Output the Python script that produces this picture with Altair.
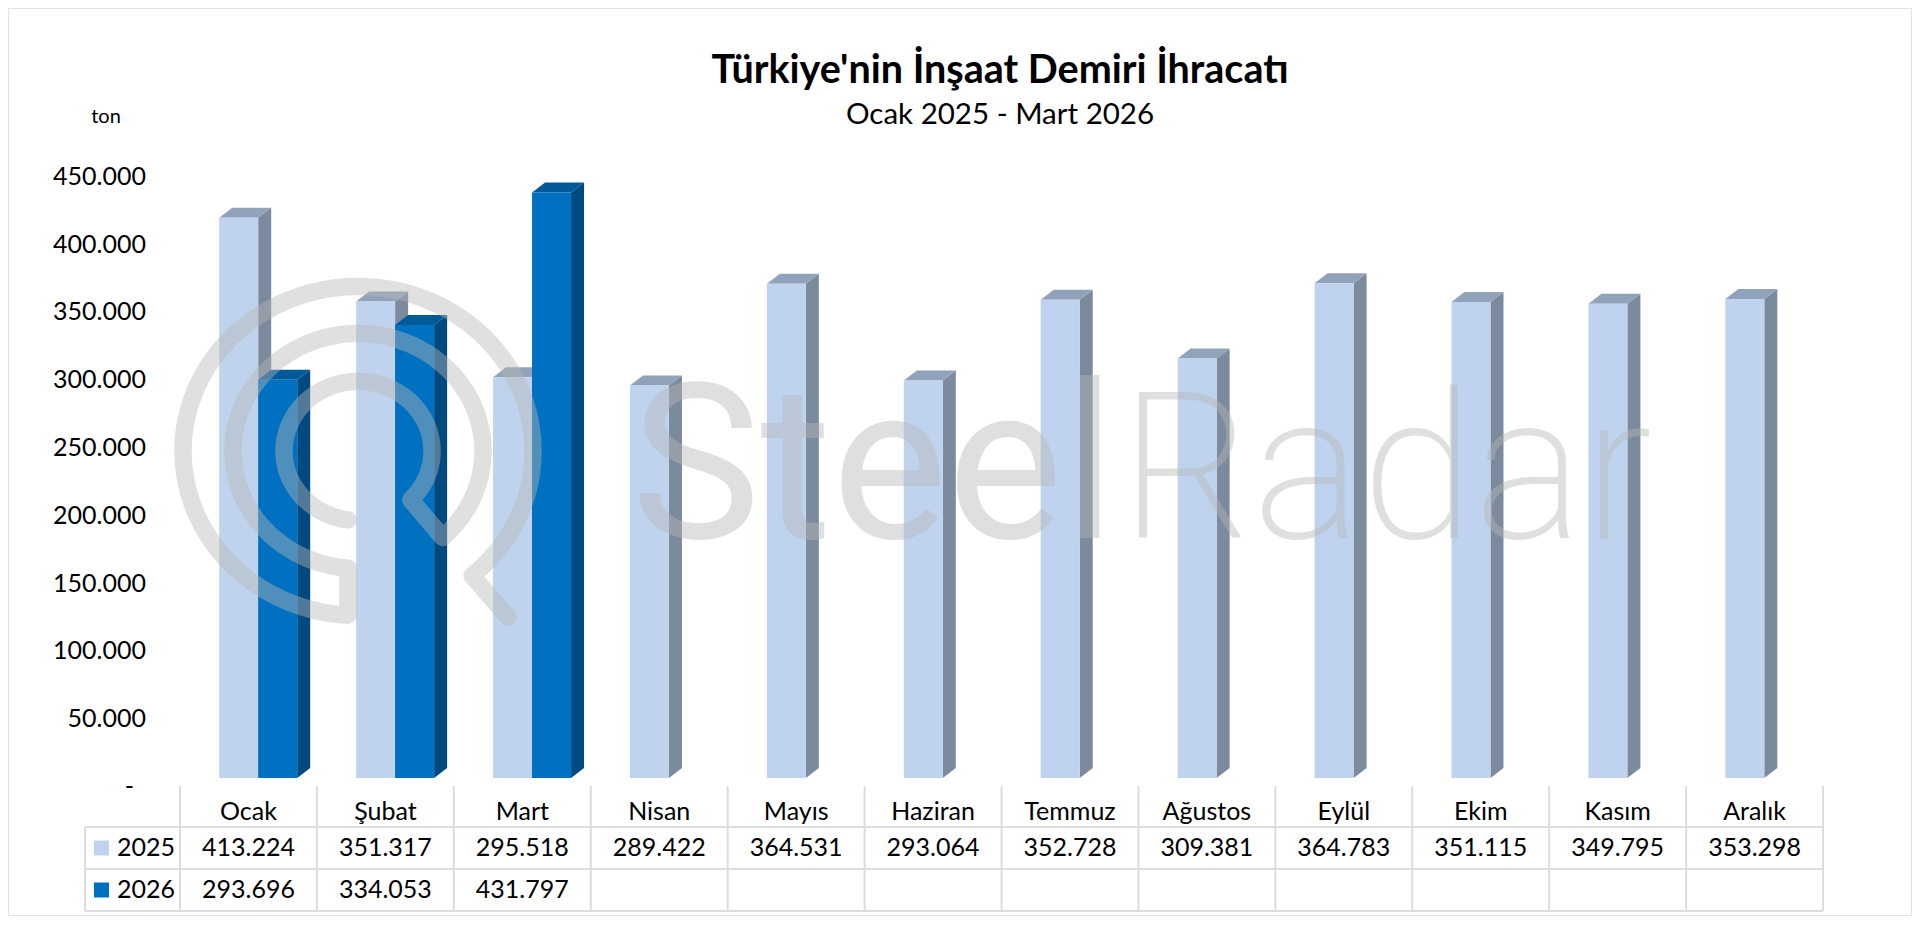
import math
import altair as alt
import pandas as pd

months = ["Ocak", "Şubat", "Mart", "Nisan", "Mayıs", "Haziran", "Temmuz", "Ağustos", "Eylül", "Ekim", "Kasım", "Aralık"]
values_2025 = [413224, 351317, 295518, 289422, 364531, 293064, 352728, 309381, 364783, 351115, 349795, 353298]
values_2026 = [293696, 334053, 431797, None, None, None, None, None, None, None, None, None]
y_ticks = [0, 50000, 100000, 150000, 200000, 250000, 300000, 350000, 400000, 450000]
title_text = "Türkiye'nin İnşaat Demiri İhracatı"
subtitle_text = "Ocak 2025 - Mart 2026"

W, H = 1904, 908
FONT = "Lato"
CAT_LEFT, CAT_W = 180.0, 136.92      # page px of first category, width of a category
BASE_Y, PX_PER_TON = 778.0, 67.8 / 50000
BAR_OFF, BAR_W = 39.2 / CAT_W, 39.0 / CAT_W
DX, DY = 13.0 / CAT_W, 10.0 / PX_PER_TON

def mx(p):
    return (p - CAT_LEFT) / CAT_W

def vy(p):
    return (BASE_Y - p) / PX_PER_TON

def X(field):
    return alt.X(field, type="quantitative", axis=None,
                 scale=alt.Scale(domain=[mx(8), mx(8 + W)], nice=False, zero=False))

def Y(field):
    return alt.Y(field, type="quantitative", axis=None,
                 scale=alt.Scale(domain=[vy(8 + H), vy(8)], nice=False, zero=False))

def frames(vals, slot):
    front, side, top = [], [], []
    for i, v in enumerate(vals):
        if v is None:
            continue
        x0 = i + BAR_OFF + slot * BAR_W
        x1 = x0 + BAR_W
        front.append(dict(m=i, x=x0, x2=x1, y=v, y2=0))
        side += [dict(m=i, x=x1, y=v, y2=0), dict(m=i, x=x1 + DX, y=v + DY, y2=DY)]
        top += [dict(m=i, x=x0, y=v, y2=v),
                dict(m=i, x=x0 + DX, y=v + DY, y2=v),
                dict(m=i, x=x1, y=v + DY, y2=v),
                dict(m=i, x=x1 + DX, y=v + DY, y2=v + DY)]
    return pd.DataFrame(front), pd.DataFrame(side), pd.DataFrame(top)

def bar_layers(vals, slot, c_front, c_side, c_top):
    f, s, t = frames(vals, slot)
    area = lambda d, c: alt.Chart(d).mark_area(color=c, orient="vertical", interpolate="linear").encode(
        x=X("x"), y=Y("y"), y2=alt.Y2("y2"), detail="m:N")
    return [area(s, c_side), area(t, c_top),
            alt.Chart(f).mark_rect(color=c_front).encode(
                x=X("x"), x2=alt.X2("x2"), y=Y("y"), y2=alt.Y2("y2"))]

layers = []
layers += bar_layers(values_2025, 0, "#bfd3ee", "#7b8a9c", "#90a3bb")
layers += bar_layers(values_2026, 1, "#0070c0", "#004a80", "#005a9a")

# value axis labels (placed through the y scale)
tick_df = pd.DataFrame({
    "y": y_ticks,
    "x": [mx(134) if t == 0 else mx(146) for t in y_ticks],
    "t": ["-" if t == 0 else f"{t:,}".replace(",", ".") for t in y_ticks],
})
layers.append(alt.Chart(tick_df).mark_text(font=FONT, fontSize=25, color="#000000", align="right",
                                           baseline="middle", dy=9).encode(
    x=X("x"), y=Y("y"), text="t:N"))

# data table
GRID = "#dcdcdc"
def vrule(p0, p1, d):
    return alt.Chart(pd.DataFrame(d)).mark_rule(color=GRID, strokeWidth=2).encode(
        x=X("x"), y=alt.value(p0 - 8), y2=alt.value(p1 - 8))
layers.append(vrule(786, 911, {"x": list(range(13))}))
layers.append(vrule(827, 911, {"x": [mx(85)]}))
layers.append(alt.Chart(pd.DataFrame({"y": [vy(827), vy(869), vy(911)]})).mark_rule(color=GRID, strokeWidth=2).encode(
    y=Y("y"), x=alt.value(85 - 8), x2=alt.value(1823 - 8)))

def num(v):
    return "" if v is None else f"{v:,}".replace(",", ".")

def row_text(labels, page_y):
    d = pd.DataFrame({"x": [i + 0.5 for i in range(12)], "t": labels})
    return alt.Chart(d).mark_text(font=FONT, fontSize=25, color="#000000", baseline="middle", align="center").encode(
        x=X("x"), y=alt.value(page_y - 8), text="t:N")

layers.append(row_text(months, 812))
layers.append(row_text([num(v) for v in values_2025], 848))
layers.append(row_text([num(v) for v in values_2026], 890))

for label_txt, color, py in [("2025", "#bfd3ee", 848), ("2026", "#0070c0", 890)]:
    d = pd.DataFrame({"t": [label_txt]})
    layers.append(alt.Chart(d).mark_square(color=color, size=225, opacity=1).encode(
        x=alt.value(101.5 - 8), y=alt.value(py - 8)))
    layers.append(alt.Chart(d).mark_text(font=FONT, fontSize=25, color="#000000", align="left", baseline="middle").encode(
        x=alt.value(117 - 8), y=alt.value(py - 8), text="t:N"))

# titles
def label(text, px, py, size, weight="normal", align="center", font=FONT, color="#000000", opacity=1, baseline="middle"):
    return alt.Chart(pd.DataFrame({"t": [text]})).mark_text(
        font=font, fontSize=size, fontWeight=weight, color=color, opacity=opacity, align=align, baseline=baseline).encode(
        x=alt.value(px - 8), y=alt.value(py - 8), text="t:N")

layers.append(label(title_text, 1000, 71, 39.5, "bold"))
layers.append(label(subtitle_text, 1000, 115, 29.5))
layers.append(label("ton", 106, 117, 20))

# watermark: logo as one continuous stroked path (slightly flattened rings), then the two words
WM, WA = "#b8b8b8", 0.435
CX, CY, FLAT = 358, 451, 0.94

def arc_pts(r, t0, t1):
    n = int(abs(t1 - t0) / 2) + 1
    return [(CX + r * math.sin(math.radians(t0 + (t1 - t0) * k / n)),
             CY - r * FLAT * math.cos(math.radians(t0 + (t1 - t0) * k / n))) for k in range(n + 1)]

path = [(508, 617)] + arc_pts(175, 139.3, -176.7) + arc_pts(125, 184.6, 497.4) + arc_pts(74, 494.6, 187.7)
logo = pd.DataFrame({"x": [mx(p[0]) for p in path], "y": [vy(p[1]) for p in path], "i": list(range(len(path)))})
layers.append(alt.Chart(logo).mark_line(color=WM, opacity=WA, strokeWidth=17.5, strokeCap="round",
                                        strokeJoin="round", interpolate="linear").encode(
    x=X("x"), y=Y("y"), order=alt.Order("i:Q")))

layers.append(label("Steel", 631, 538, 218, 400, "left", "Roboto", WM, WA, "alphabetic"))
layers.append(label("Radar", 1120, 538, 205, 200, "left", "Roboto", WM, WA, "alphabetic"))

chart = alt.layer(*layers).properties(
    width=W, height=H, padding=0, background="#ffffff",
    autosize=alt.AutoSizeParams(type="none"),
).configure_view(stroke="#e2e2e2", strokeWidth=2)

chart.save("out.html", embed_options={"renderer": "svg", "actions": False})
